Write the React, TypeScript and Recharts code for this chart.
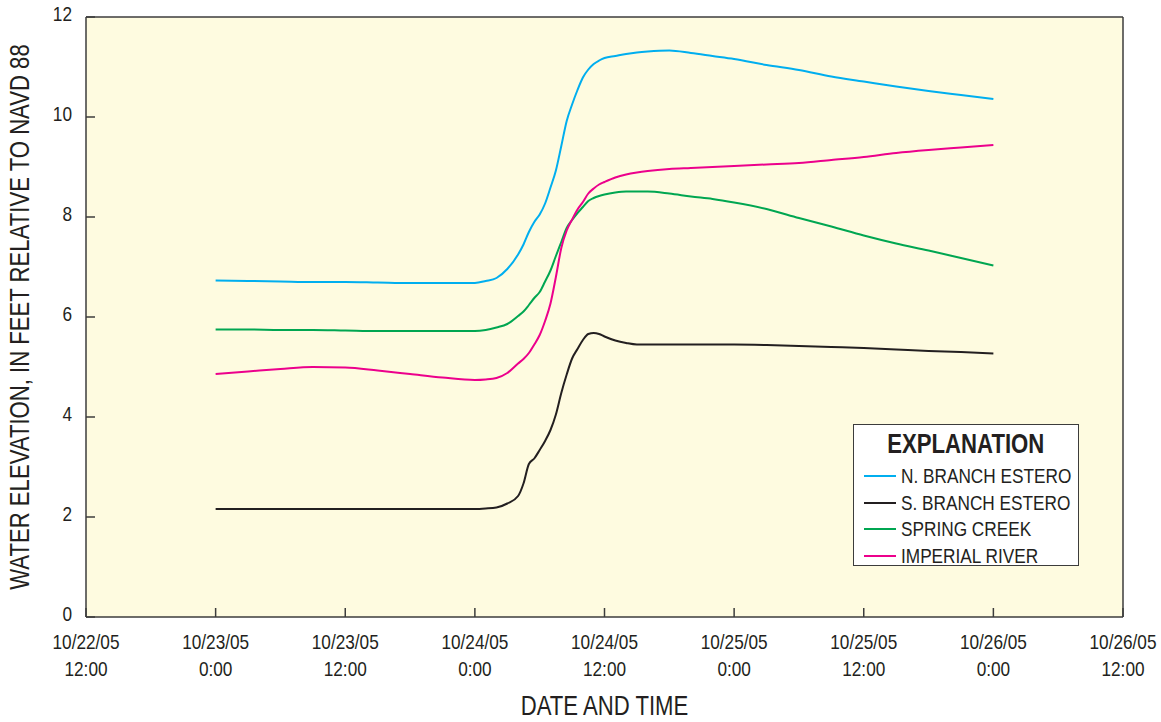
import React from 'react';
import { LineChart, Line, XAxis, YAxis, CartesianGrid, Legend } from 'recharts';

// Hours since 10/22/05 12:00
const hours = [12, 15, 18, 21, 24, 27, 30, 33, 36, 37, 38, 39, 40, 40.5, 41, 41.5, 42, 42.5, 43, 43.5, 44, 44.5, 45, 45.5, 46, 46.5, 47, 47.5, 48, 49, 50, 51, 52, 54, 56, 58, 60, 63, 66, 69, 72, 75, 78, 81, 84];

const nBranchEstero = [6.73, 6.72, 6.71, 6.70, 6.70, 6.69, 6.68, 6.68, 6.68, 6.72, 6.78, 6.96, 7.25, 7.45, 7.70, 7.90, 8.05, 8.27, 8.59, 8.93, 9.42, 9.92, 10.25, 10.54, 10.79, 10.95, 11.06, 11.13, 11.18, 11.22, 11.26, 11.29, 11.31, 11.33, 11.28, 11.22, 11.16, 11.04, 10.94, 10.81, 10.71, 10.61, 10.52, 10.44, 10.36];
const sBranchEstero = [2.16, 2.16, 2.16, 2.16, 2.16, 2.16, 2.16, 2.16, 2.16, 2.17, 2.19, 2.27, 2.42, 2.67, 3.06, 3.17, 3.34, 3.52, 3.74, 4.05, 4.48, 4.85, 5.17, 5.36, 5.54, 5.66, 5.68, 5.66, 5.61, 5.53, 5.48, 5.45, 5.45, 5.45, 5.45, 5.45, 5.45, 5.44, 5.42, 5.40, 5.38, 5.35, 5.32, 5.30, 5.27];
const springCreek = [5.75, 5.75, 5.74, 5.74, 5.73, 5.72, 5.72, 5.72, 5.72, 5.74, 5.79, 5.86, 6.02, 6.11, 6.24, 6.38, 6.50, 6.71, 6.93, 7.22, 7.50, 7.78, 7.94, 8.08, 8.20, 8.32, 8.38, 8.42, 8.45, 8.49, 8.51, 8.51, 8.51, 8.47, 8.41, 8.36, 8.29, 8.16, 7.98, 7.81, 7.63, 7.47, 7.33, 7.18, 7.03];
const imperialRiver = [4.86, 4.91, 4.96, 5.00, 4.99, 4.93, 4.86, 4.79, 4.74, 4.75, 4.78, 4.88, 5.07, 5.16, 5.28, 5.45, 5.64, 5.92, 6.27, 6.80, 7.38, 7.73, 7.95, 8.15, 8.30, 8.47, 8.57, 8.65, 8.70, 8.79, 8.85, 8.89, 8.92, 8.96, 8.98, 9.00, 9.02, 9.05, 9.08, 9.14, 9.20, 9.28, 9.34, 9.39, 9.44];

const xTicks = [0, 12, 24, 36, 48, 60, 72, 84, 96];
const xTickDates = ['10/22/05', '10/23/05', '10/23/05', '10/24/05', '10/24/05', '10/25/05', '10/25/05', '10/26/05', '10/26/05'];
const xTickTimes = ['12:00', '0:00', '12:00', '0:00', '12:00', '0:00', '12:00', '0:00', '12:00'];
const yTicks = [0, 2, 4, 6, 8, 10, 12];

const seriesNames = ['N. BRANCH ESTERO', 'S. BRANCH ESTERO', 'SPRING CREEK', 'IMPERIAL RIVER'];
const seriesKeys = ['nBranch', 'sBranch', 'spring', 'imperial'];
const seriesColors = ['#00AEEF', '#231F20', '#00A651', '#EC008C'];

const data = hours.map((t, i) => ({
  t,
  nBranch: nBranchEstero[i],
  sBranch: sBranchEstero[i],
  spring: springCreek[i],
  imperial: imperialRiver[i],
}));

const FONT = '"Liberation Sans", Arial, sans-serif';
const NARROW = 0.82;
const TEXT = '#231F20';
const FRAME = '#3c3c3c';

const NText = ({ x, y, anchor = 'middle', size = 21, weight = 'normal', rotate = 0, children }: any) => (
  <text
    transform={`translate(${x},${y}) rotate(${rotate}) scale(${NARROW},1)`}
    textAnchor={anchor}
    fontFamily={FONT}
    fontSize={size}
    fontWeight={weight}
    fill={TEXT}
  >
    {children}
  </text>
);

const XTick = (props: any) => {
  const { x, y, payload } = props;
  const i = xTicks.indexOf(payload.value);
  return (
    <g>
      <NText x={x} y={y + 32}>{xTickDates[i]}</NText>
      <NText x={x} y={y + 59}>{xTickTimes[i]}</NText>
    </g>
  );
};

const YTick = (props: any) => {
  const { x, y, payload } = props;
  return <NText x={x} y={y + 4} anchor="end">{payload.value}</NText>;
};

const LegendBox = () => (
  <div style={{
    width: 224, height: 140, border: `1.5px solid ${FRAME}`, background: '#ffffff',
    fontFamily: FONT, color: TEXT, boxSizing: 'content-box', overflow: 'hidden',
  }}>
    <div style={{ textAlign: 'center', height: 34, paddingTop: 4, whiteSpace: 'nowrap' }}>
      <span style={{ display: 'inline-block', fontWeight: 'bold', fontSize: 27, lineHeight: '30px', transform: `scaleX(${NARROW})` }}>EXPLANATION</span>
    </div>
    {seriesNames.map((n, i) => (
      <div key={n} style={{ display: 'flex', alignItems: 'center', height: 26.5, whiteSpace: 'nowrap' }}>
        <div style={{ width: 32, height: 0, borderTop: `2px solid ${seriesColors[i]}`, marginLeft: 10, marginRight: 5, flex: 'none' }} />
        <span style={{ display: 'inline-block', fontSize: 21, lineHeight: '22px', transform: `scaleX(${NARROW})`, transformOrigin: 'left center' }}>{n}</span>
      </div>
    ))}
  </div>
);

export default function App() {
  return (
    <div style={{ position: 'absolute', left: 0, top: 0, width: 1161, height: 722, background: '#fff' }}>
      <LineChart width={1161} height={722} data={data} margin={{ top: 16, right: 37, bottom: 0, left: 0 }}>
        <CartesianGrid xAxisId="main" yAxisId="main" horizontal={false} vertical={false} fill="#FEFBE0" />
        <XAxis
          xAxisId="main" dataKey="t" type="number" domain={[0, 96]} ticks={xTicks} interval={0}
          height={105} tickSize={-9} tickMargin={9}
          axisLine={{ stroke: FRAME, strokeWidth: 1.5 }} tickLine={{ stroke: FRAME, strokeWidth: 1.5 }}
          tick={<XTick />}
          label={{
            content: (p: any) => (
              <NText x={p.viewBox.x + p.viewBox.width / 2} y={p.viewBox.y + 98} size={27}>DATE AND TIME</NText>
            ),
          }}
        />
        <XAxis
          xAxisId="top" orientation="top" dataKey="t" type="number" domain={[0, 96]} ticks={xTicks} interval={0}
          height={1} tickSize={-9} tick={false}
          axisLine={{ stroke: FRAME, strokeWidth: 1.5 }} tickLine={{ stroke: FRAME, strokeWidth: 1.5 }}
        />
        <YAxis
          yAxisId="main" type="number" domain={[0, 12]} ticks={yTicks} interval={0}
          width={86} tickSize={-9} tickMargin={23}
          axisLine={{ stroke: FRAME, strokeWidth: 1.5 }} tickLine={{ stroke: FRAME, strokeWidth: 1.5 }}
          tick={<YTick />}
          label={{
            content: (p: any) => (
              <NText x={29} y={p.viewBox.y + p.viewBox.height / 2} rotate={-90} size={27}>
                WATER ELEVATION, IN FEET RELATIVE TO NAVD 88
              </NText>
            ),
          }}
        />
        <YAxis
          yAxisId="right" orientation="right" type="number" domain={[0, 12]} ticks={yTicks} interval={0}
          width={1} tickSize={-9} tick={false}
          axisLine={{ stroke: FRAME, strokeWidth: 1.5 }} tickLine={{ stroke: FRAME, strokeWidth: 1.5 }}
        />
        {seriesKeys.map((k, i) => (
          <Line
            key={k} xAxisId="main" yAxisId="main" type="monotone" dataKey={k} name={seriesNames[i]}
            stroke={seriesColors[i]} strokeWidth={2} dot={false} isAnimationActive={false}
          />
        ))}
        <Legend
          layout="horizontal" verticalAlign="middle" align="center"
          wrapperStyle={{ position: 'absolute', left: 853, top: 424, width: 'auto', height: 'auto' }}
          content={<LegendBox />}
        />
      </LineChart>
    </div>
  );
}
